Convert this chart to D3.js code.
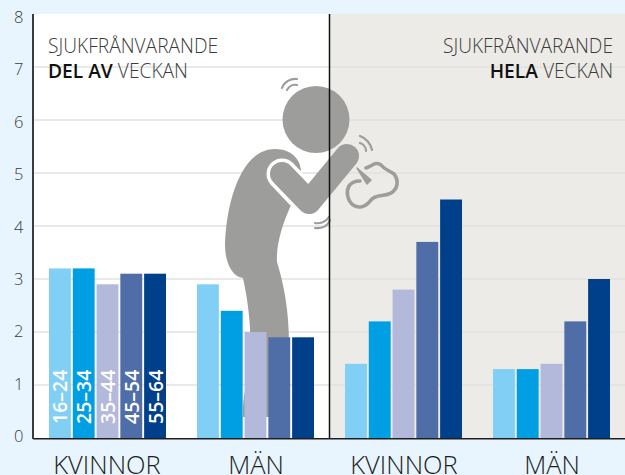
<!DOCTYPE html>
<html><head><meta charset="utf-8">
<script src="https://cdn.jsdelivr.net/npm/d3@7"></script>
<style>html,body{margin:0;padding:0;background:#e8f5fe;overflow:hidden}svg{display:block}text{font-family:"Open Sans",sans-serif}</style>
</head><body><svg id="c" width="625" height="475"></svg>
<script>
const groups = ["KVINNOR ","MÄN ","KVINNOR","MÄN"];
const ages = ["16–24","25–34","35–44","45–54","55–64"];
const kvinnorDel = [3.2,3.2,2.9,3.1,3.1];
const manDel = [2.9,2.4,2.0,1.9,1.9];
const kvinnorHela = [1.4,2.2,2.8,3.7,4.5];
const manHela = [1.3,1.3,1.4,2.2,3.0];
const seriesValues = [kvinnorDel,manDel,kvinnorHela,manHela];
const colors = ["#82cff5","#009fe3","#b3b9da","#4f6ea8","#00408a"];
const yTicks = [0,1,2,3,4,5,6,7,8];

const svg = d3.select("#c");
const y = d3.scaleLinear().domain([0,8]).range([438,14]);
const yLabel = d3.scaleLinear().domain([0,8]).range([442,23]);
const x0 = d3.scaleBand().domain(groups).range([0,592]);
const groupX = d => 49 + x0(d);
const x1 = d3.scaleBand().domain(ages).range([0,117]).paddingInner(0.08).paddingOuter(0);

// panels
svg.append("rect").attr("x",33).attr("y",14).attr("width",297).attr("height",424).attr("fill","#fff");
svg.append("rect").attr("x",330).attr("y",14).attr("width",295).attr("height",424).attr("fill","#ecebe7");

// grid
svg.append("g").selectAll("line").data(yTicks.filter(d=>d>0&&d<8)).join("line")
  .attr("x1",33).attr("x2",625).attr("y1",d=>y(d)).attr("y2",d=>y(d))
  .attr("stroke","#e2e2e0").attr("stroke-width",1.6);

// figure
const gray = "#9d9d9c";
const fig = svg.append("g");
fig.append("path").attr("fill",gray).attr("d",
 "M275,149 C292,149 301,160 301,172 L291,205 C282,225 276,245 277,262 C284,285 289,310 289,345 L289,417 L243,417 C243,405 243,395 247,385 C252,350 252,320 243,278 C232,277 225,262 225,245 C226,205 240,149 275,149 Z");
fig.append("circle").attr("cx",316).attr("cy",119.5).attr("r",33.5).attr("fill",gray);
fig.append("path").attr("d","M282,174 L300,193").attr("fill","none").attr("stroke","#fff").attr("stroke-width",31).attr("stroke-linecap","round");
fig.append("path").attr("d","M282,174 L309,202 L347,156").attr("fill","none").attr("stroke",gray).attr("stroke-width",24).attr("stroke-linecap","round").attr("stroke-linejoin","round");
const arcs = ["M282,88 C284,82 291,78 297,79","M287,90 C289,86 293,84 297,85",
 "M360,136 C366,138 371,144 372,150","M360,143 C363,144 366,147 366,151",
 "M315,223 C320,224 326,222 329,217","M315,228 C322,229 328,226 330,220"];
fig.selectAll(".arc").data(arcs).join("path").attr("d",d=>d).attr("fill","none").attr("stroke",gray).attr("stroke-width",2.2).attr("stroke-linecap","round");
fig.append("path").attr("d","M357,168 L371,180 L367,184 Z").attr("fill",gray).attr("stroke",gray).attr("stroke-width",1.5).attr("stroke-linejoin","round");
fig.append("path").attr("fill","none").attr("stroke",gray).attr("stroke-width",3.6).attr("stroke-linecap","round")
 .attr("d","M366,168 C372,166 376,161 381,165 C385,170 390,171 394,174 C399,180 398,189 391,193 C384,197 376,194 371,200 C366,207 359,209 353,205 C347,200 346,191 349,186 C351,183 355,181 360,181");

// axis lines
svg.append("line").attr("x1",33).attr("x2",625).attr("y1",438.8).attr("y2",438.8).attr("stroke","#1d1d1b").attr("stroke-width",1.6);
svg.append("line").attr("x1",33).attr("x2",33).attr("y1",14).attr("y2",439).attr("stroke","#3c3c3b").attr("stroke-width",2);
svg.append("line").attr("x1",329.5).attr("x2",329.5).attr("y1",14).attr("y2",438).attr("stroke","#111").attr("stroke-width",1.5);

// bars
const gs = svg.append("g").selectAll("g").data(groups).join("g").attr("transform",d=>`translate(${groupX(d)},0)`);
gs.each(function(g,gi){
  const sel = d3.select(this);
  sel.selectAll("rect").data(ages).join("rect")
    .attr("x",a=>x1(a)).attr("width",x1.bandwidth())
    .attr("y",(a,i)=>y(seriesValues[gi][i]))
    .attr("height",(a,i)=>y(0)-y(seriesValues[gi][i]))
    .attr("fill",(a,i)=>colors[i]);
  if(gi===0){
    sel.selectAll("text").data(ages).join("text")
      .attr("transform",a=>`translate(${x1(a)+x1.bandwidth()/2+7.5},424) rotate(-90)`)
      .attr("fill","#fff").attr("font-size",19.5).attr("font-weight",600).text(a=>a);
  }
});

// y tick labels
svg.append("g").selectAll("text").data(yTicks).join("text")
  .attr("x",23.5).attr("y",d=>yLabel(d)).attr("text-anchor","end").attr("font-size",16.5).attr("font-weight",300).attr("fill","#3c3c3b").text(d=>d);

// group labels
svg.append("g").selectAll("text").data(groups).join("text")
  .attr("x",(d,i)=>[107,256,404,552][i]).attr("y",474).attr("text-anchor","middle")
  .attr("font-size",25.5).attr("font-weight",300).attr("fill","#1d1d1b").text(d=>d.trim());

// titles
const t = svg.append("g").attr("font-size",19.2).attr("fill","#3c3c3b").attr("font-weight",300);
t.append("text").attr("x",48).attr("y",53).text("SJUKFRÅNVARANDE");
const a = t.append("text").attr("x",48).attr("y",78);
a.append("tspan").attr("font-weight",600).attr("fill","#111").text("DEL AV");
a.append("tspan").text(" VECKAN");
t.append("text").attr("x",613).attr("y",53).attr("text-anchor","end").text("SJUKFRÅNVARANDE");
const b = t.append("text").attr("x",613).attr("y",78).attr("text-anchor","end");
b.append("tspan").attr("font-weight",600).attr("fill","#111").text("HELA");
b.append("tspan").text(" VECKAN");
</script></body></html>
